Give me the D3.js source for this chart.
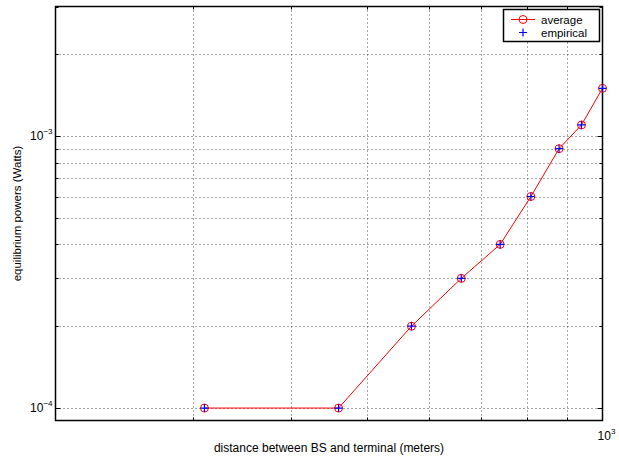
<!DOCTYPE html>
<html>
<head>
<meta charset="utf-8">
<script src="https://cdn.jsdelivr.net/npm/d3@7"></script>
<style>
  body { margin: 0; background: #fff; }
  svg { display: block; font-family: "Liberation Sans", Arial, sans-serif; }
</style>
</head>
<body>
<svg id="chart" width="619" height="457"></svg>
<script>
const distances = [310, 460, 570, 660, 740, 810, 880, 940, 1000];
const averagePower = [1e-4, 1e-4, 2e-4, 3e-4, 4e-4, 6e-4, 9e-4, 1.1e-3, 1.5e-3];
const empiricalPower = [1e-4, 1e-4, 2e-4, 3e-4, 4e-4, 6e-4, 9e-4, 1.1e-3, 1.5e-3];
const xDomain = [200, 1000];
const yDomain = [9e-5, 3e-3];
const xGridValues = [300, 400, 500, 600, 700, 800, 900];
const yGridValues = [1e-4, 2e-4, 3e-4, 4e-4, 5e-4, 6e-4, 7e-4, 8e-4, 9e-4, 1e-3, 2e-3];
const yMajor = [1e-4, 1e-3];
const xMajor = [1000];
const legendNames = ["average", "empirical"];

const svg = d3.select("#chart");
const margin = { top: 6.5, right: 16.5, bottom: 36.5, left: 55.5 };
const W = 619, H = 457;
const x0 = margin.left, x1 = W - margin.right;
const y0 = margin.top, y1 = H - margin.bottom;

const x = d3.scaleLog().domain(xDomain).range([x0, x1]);
const y = d3.scaleLog().domain(yDomain).range([y1, y0]);

// dotted grid
const grid = svg.append("g").attr("stroke", "#222").attr("stroke-width", 0.8)
  .attr("stroke-dasharray", "1,3");
grid.selectAll("line.gx").data(xGridValues).join("line")
  .attr("x1", d => Math.round(x(d)) + 0.5).attr("x2", d => Math.round(x(d)) + 0.5)
  .attr("y1", y0).attr("y2", y1);
grid.selectAll("line.gy").data(yGridValues).join("line")
  .attr("y1", d => Math.round(y(d)) + 0.5).attr("y2", d => Math.round(y(d)) + 0.5)
  .attr("x1", x0).attr("x2", x1);

// ticks inside the box on all sides
const ticks = svg.append("g").attr("stroke", "#000").attr("stroke-width", 1);
const allY = yGridValues.concat([3e-3]);
allY.forEach(v => {
  const len = yMajor.includes(v) ? 5 : 3;
  const yy = Math.round(y(v)) + 0.5;
  ticks.append("line").attr("x1", x0).attr("x2", x0 + len).attr("y1", yy).attr("y2", yy);
  ticks.append("line").attr("x1", x1).attr("x2", x1 - len).attr("y1", yy).attr("y2", yy);
});
xGridValues.forEach(v => {
  const xx = Math.round(x(v)) + 0.5;
  ticks.append("line").attr("x1", xx).attr("x2", xx).attr("y1", y1).attr("y2", y1 - 3);
  ticks.append("line").attr("x1", xx).attr("x2", xx).attr("y1", y0).attr("y2", y0 + 3);
});

// axes box
svg.append("rect").attr("x", x0).attr("y", y0).attr("width", x1 - x0).attr("height", y1 - y0)
  .attr("fill", "none").attr("stroke", "#000").attr("stroke-width", 1.5);

// tick labels: 10^k
function powLabel(g, px, py, exp, anchor) {
  const t = g.append("text").attr("x", px).attr("y", py).attr("text-anchor", anchor)
    .attr("font-size", 12).attr("fill", "#000");
  t.append("tspan").text("10");
  t.append("tspan").attr("font-size", 8).attr("dy", -6).text(exp);
}
const labels = svg.append("g");
yMajor.forEach(v => powLabel(labels, x0 - 3, y(v) + 4, "\u2212" + Math.round(-Math.log10(v)), "end"));
xMajor.forEach(v => powLabel(labels, x(v) + 4, y1 + 19, String(Math.round(Math.log10(v))), "middle"));

// axis titles
svg.append("text").attr("x", (x0 + x1) / 2).attr("y", H - 5).attr("text-anchor", "middle")
  .attr("font-size", 12).text("distance between BS and terminal (meters)");
svg.append("text").attr("transform", `translate(21,${(y0 + y1) / 2}) rotate(-90)`)
  .attr("text-anchor", "middle").attr("font-size", 11.5).text("equilibrium powers (Watts)");

// data line
const line = d3.line().x((d, i) => x(distances[i])).y(d => y(d));
svg.append("path").datum(averagePower).attr("d", line)
  .attr("fill", "none").attr("stroke", "#ff0000").attr("stroke-width", 1);

svg.selectAll("circle.avg").data(averagePower).join("circle")
  .attr("cx", (d, i) => x(distances[i])).attr("cy", d => y(d)).attr("r", 4)
  .attr("fill", "none").attr("stroke", "#ff0000").attr("stroke-width", 1);

function plusPath(cx, cy, s) {
  return `M${cx - s},${cy}H${cx + s}M${cx},${cy - s}V${cy + s}`;
}
svg.selectAll("path.emp").data(empiricalPower).join("path")
  .attr("d", (d, i) => plusPath(x(distances[i]), y(d), 4))
  .attr("stroke", "#0000ff").attr("stroke-width", 1.2).attr("fill", "none");

// legend
const lg = svg.append("g");
lg.append("rect").attr("x", 503.5).attr("y", 9.5).attr("width", 96).attr("height", 32)
  .attr("fill", "#fff").attr("stroke", "#000").attr("stroke-width", 1.5);
lg.append("line").attr("x1", 511).attr("x2", 535).attr("y1", 19.5).attr("y2", 19.5)
  .attr("stroke", "#ff0000");
lg.append("circle").attr("cx", 523).attr("cy", 19.5).attr("r", 4)
  .attr("fill", "none").attr("stroke", "#ff0000");
lg.append("path").attr("d", plusPath(523, 32.5, 4)).attr("stroke", "#0000ff").attr("stroke-width", 1.2);
legendNames.forEach((n, i) => {
  lg.append("text").attr("x", 541).attr("y", 23.5 + i * 13).attr("font-size", 11.5).text(n);
});
</script>
</body>
</html>
